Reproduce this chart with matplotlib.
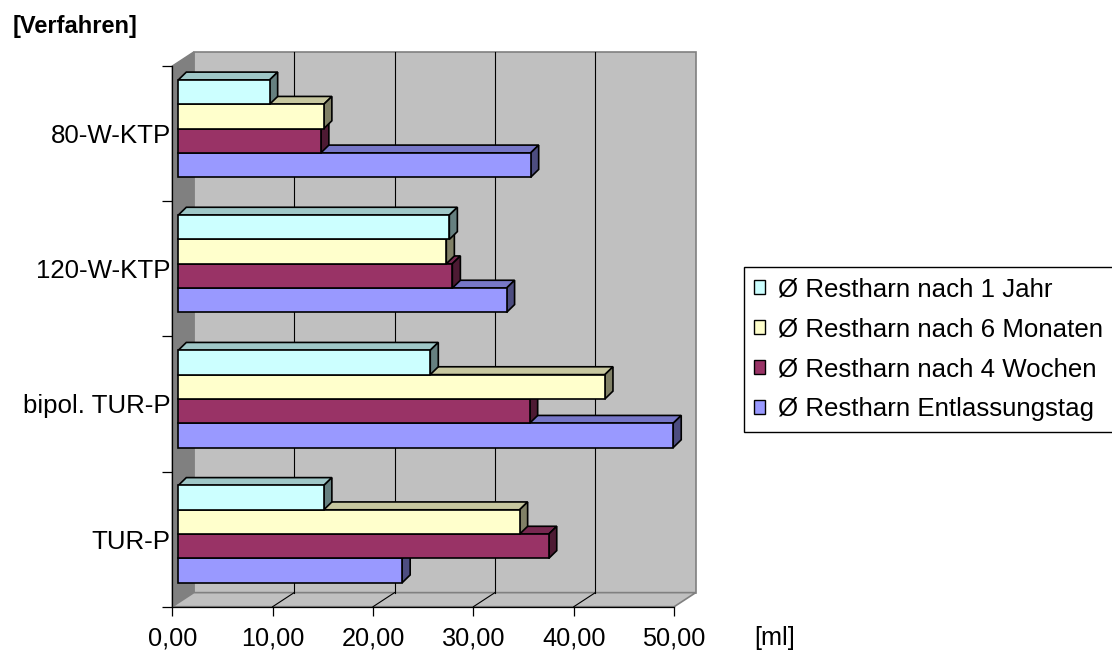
import matplotlib.pyplot as plt
from matplotlib.patches import Polygon, Patch
import numpy as np

plt.rcParams['font.family'] = ['Liberation Sans', 'DejaVu Sans']

# Verfahren (bottom to top) and mean residual urine per follow-up time [ml]
verfahren = ["TUR-P", "bipol. TUR-P", "120-W-KTP", "80-W-KTP"]
serien = ["Ø Restharn Entlassungstag", "Ø Restharn nach 4 Wochen",
          "Ø Restharn nach 6 Monaten", "Ø Restharn nach 1 Jahr"]
entlassungstag = [22.3, 49.3, 32.7, 35.1]
nach_4_wochen = [36.9, 35.0, 27.3, 14.2]
nach_6_monaten = [34.0, 42.5, 26.7, 14.5]
nach_1_jahr = [14.5, 25.1, 27.0, 9.1]
werte = [entlassungstag, nach_4_wochen, nach_6_monaten, nach_1_jahr]
farben = ["#9999ff", "#993366", "#ffffcc", "#ccffff"]
x_ticks = [0, 10, 20, 30, 40, 50]


def shade(c, f):
    rgb = np.array(plt.matplotlib.colors.to_rgb(c))
    return tuple(rgb * f)


fig = plt.figure(figsize=(11.12, 6.53), dpi=100)
ax = fig.add_axes([0.1549, 0.0709, 0.4514, 0.828])
ax.set_xlim(0, 50)
ax.set_ylim(-0.5, 3.5)
ax.patch.set_visible(False)
for s in ["top", "right"]:
    ax.spines[s].set_visible(False)
for s in ["left", "bottom"]:
    ax.spines[s].set_color("black")
    ax.spines[s].set_linewidth(0.9)
    ax.spines[s].set_zorder(20)

# depth of the walls and of the bars (in data units)
wdx, wdy = 2.14, 0.104
y0, y1 = -0.5, 3.5
wall = "#c0c0c0"
edge = "#808080"

# back wall, left wall and floor
ax.add_patch(Polygon([(wdx, y0 + wdy), (50 + wdx, y0 + wdy), (50 + wdx, y1 + wdy), (wdx, y1 + wdy)],
                     closed=True, fc=wall, ec=edge, lw=1.2, clip_on=False, zorder=0))
ax.add_patch(Polygon([(0, y0), (wdx, y0 + wdy), (wdx, y1 + wdy), (0, y1)],
                     closed=True, fc="#808080", ec=edge, lw=1.0, clip_on=False, zorder=0.5))
ax.add_patch(Polygon([(0, y0), (50, y0), (50 + wdx, y0 + wdy), (wdx, y0 + wdy)],
                     closed=True, fc=wall, ec=edge, lw=1.2, clip_on=False, zorder=0.5))
for t in x_ticks[1:-1]:
    ax.plot([t + wdx, t + wdx], [y0 + wdy, y1 + wdy], color="black", lw=0.8, zorder=1, clip_on=False)
    ax.plot([t, t + wdx], [y0, y0 + wdy], color="black", lw=0.8, zorder=1, clip_on=False)

# 3D bars
x0, yoff = 0.6, 0.037
h = 0.18
bdx, bdy = 0.8, 0.058
pos = np.arange(len(verfahren))
z = 2
for i in range(len(verfahren)):
    for k, (vals, col) in enumerate(zip(werte, farben)):
        v = vals[i]
        yb = pos[i] + yoff - 2 * h + k * h
        yt = yb + h
        ax.barh(yb, v, height=h, left=x0, align="edge", color=col,
                edgecolor="black", lw=1.2, zorder=z + 0.2, clip_on=False)
        top = [(x0, yt), (x0 + v, yt), (x0 + v + bdx, yt + bdy), (x0 + bdx, yt + bdy)]
        side = [(x0 + v, yb), (x0 + v + bdx, yb + bdy), (x0 + v + bdx, yt + bdy), (x0 + v, yt)]
        ax.add_patch(Polygon(top, closed=True, fc=shade(col, 0.78), ec="black", lw=1.2,
                             zorder=z, clip_on=False))
        ax.add_patch(Polygon(side, closed=True, fc=shade(col, 0.5), ec="black", lw=1.2,
                             zorder=z + 0.1, clip_on=False))
        z += 1

# axes, ticks and labels
ax.set_xticks(x_ticks)
ax.set_xticklabels(["%d,00" % t for t in x_ticks], fontsize=18.2)
ax.tick_params(axis="x", direction="out", length=6.5, width=0.9, pad=8)
ax.set_yticks(np.arange(-0.5, 4.0, 1.0))
ax.set_yticklabels([])
ax.tick_params(axis="y", which="major", direction="out", length=7, width=0.9)
ax.set_yticks(pos, minor=True)
ax.set_yticklabels(verfahren, minor=True, fontsize=18.6)
ax.tick_params(axis="y", which="minor", length=0, pad=1)

fig.text(13 / 1112, 1 - 27 / 653, "[Verfahren]", fontsize=17, fontweight="bold",
         ha="left", va="center")
fig.text(775 / 1112, 1 - 638 / 653, "[ml]", fontsize=18.2, ha="center", va="center")

handles = [Patch(fc=c, ec="black", lw=1.0) for c in farben[::-1]]
fig.legend(handles, serien[::-1], loc="upper left", bbox_to_anchor=(744 / 1112, 1 - 267 / 653),
           fontsize=18.6, frameon=True, fancybox=False, edgecolor="black", framealpha=1,
           borderaxespad=0, borderpad=0.4, handlelength=0.43, handleheight=0.43,
           handletextpad=0.49, labelspacing=0.62)

fig.savefig("out.png", dpi=100)
